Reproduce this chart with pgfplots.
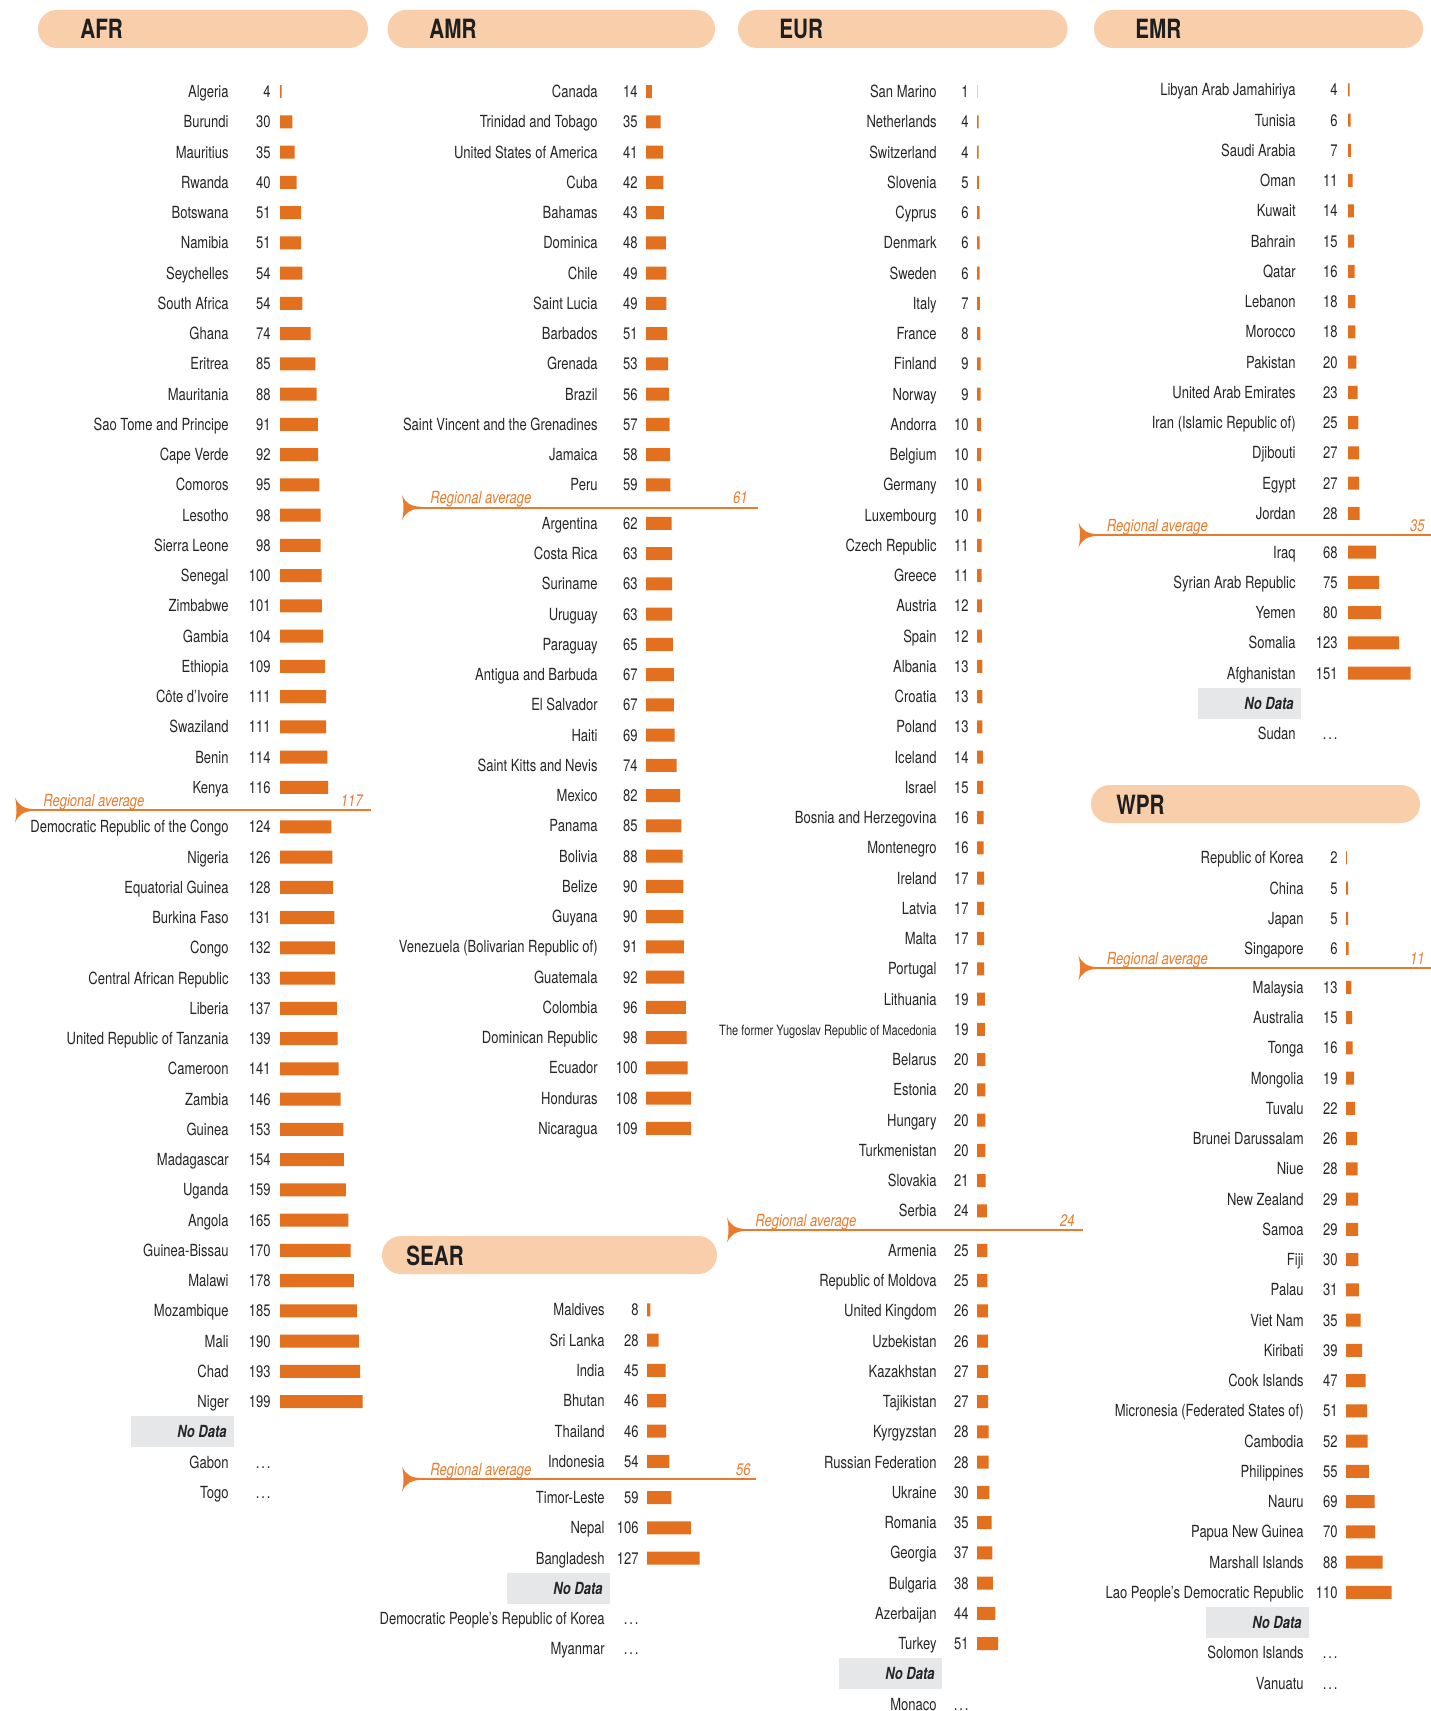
\documentclass[border=0pt]{standalone}
\usepackage{fontspec}
\setmainfont{TeX Gyre Heros}[FakeStretch=0.78]
\usepackage{pgfplots}
\usepackage{pgfplotstable}
\pgfplotsset{compat=1.18}
\definecolor{barc}{HTML}{E3701F}
\definecolor{pillc}{HTML}{F8CEAB}
\definecolor{regc}{HTML}{E97B2C}
\definecolor{txtc}{HTML}{262626}
\definecolor{ndc}{HTML}{E6E7E8}
\newcommand\bodyf{\fontsize{8.35}{10}\selectfont}
\protected\def\mkd{{\fontsize{7.1}{8}\selectfont The former Yugoslav Republic of Macedonia}}
\protected\def\dts{\makebox[7.4pt][s]{.\hfill.\hfill.}}

\pgfplotsset{
  panel/.style={hide axis, clip=false, xmin=0, xmax=250, ymin=-56, ymax=0,
    x=0.2075pt, y=15.125pt, anchor=north west},
  bars/.style={xbar, draw=none, fill=barc, bar width=6.5pt},
  lab/.style={draw=none, nodes near coords, point meta=explicit symbolic,
    nodes near coords style={anchor=base east, xshift=#1, yshift=-3pt, inner sep=0pt, font=\bodyf, text=txtc}},
  dotlab/.style={draw=none, nodes near coords={\dts},
    nodes near coords style={anchor=base east, xshift=#1, yshift=-3pt, inner sep=0pt, font=\bodyf, text=txtc}},
}
\newcommand\nodata[2]{%
  \node[fill=ndc, minimum width=51.5pt, minimum height=15.5pt, inner sep=0pt, anchor=east] at ([xshift=#2]axis cs:0,#1) {};
  \node[anchor=base east, inner sep=0pt, font=\bodyf\bfseries\itshape, text=txtc] at ([xshift=#2-3.5pt, yshift=-3pt]axis cs:0,#1) {No Data};}
\newcommand\ravg[5]{%
  \fill[regc] (#1,#3-12.5) .. controls (#1+4,#3-4) and (#1+9,#3-1.2) .. (#1+20,#3-0.8) -- (#1+20,#3+0.8) .. controls (#1+9,#3+1.2) and (#1+4,#3+4) .. (#1,#3+12.5) .. controls (#1+2,#3+4) and (#1+2,#3-4) .. cycle;
  \draw[regc, line width=0.8pt] (#1+10,#3) -- (#2,#3);
  \node[anchor=base west, inner sep=0pt, text=regc, font=\bodyf\itshape] at (#1+28,#3-4) {Regional average};
  \node[anchor=base east, inner sep=0pt, text=regc, font=\bodyf\itshape] at (#4,#3-4) {#5};}
\newcommand\pill[5]{%
  \fill[pillc, rounded corners=9.4pt] (#1,#2) rectangle (#3,#2+38);
  \node[anchor=base west, inner sep=0pt, font=\fontsize{13.25}{15}\selectfont\bfseries, text=black!88] at (#4,#2+29) {#5};}

% ---------------- AFR
\pgfplotstableread[col sep=comma]{
y,v,name
0,4,Algeria
-1,30,Burundi
-2,35,Mauritius
-3,40,Rwanda
-4,51,Botswana
-5,51,Namibia
-6,54,Seychelles
-7,54,South Africa
-8,74,Ghana
-9,85,Eritrea
-10,88,Mauritania
-11,91,Sao Tome and Principe
-12,92,Cape Verde
-13,95,Comoros
-14,98,Lesotho
-15,98,Sierra Leone
-16,100,Senegal
-17,101,Zimbabwe
-18,104,Gambia
-19,109,Ethiopia
-20,111,Côte d'Ivoire
-21,111,Swaziland
-22,114,Benin
-23,116,Kenya
-24.3,124,Democratic Republic of the Congo
-25.3,126,Nigeria
-26.3,128,Equatorial Guinea
-27.3,131,Burkina Faso
-28.3,132,Congo
-29.3,133,Central African Republic
-30.3,137,Liberia
-31.3,139,United Republic of Tanzania
-32.3,141,Cameroon
-33.3,146,Zambia
-34.3,153,Guinea
-35.3,154,Madagascar
-36.3,159,Uganda
-37.3,165,Angola
-38.3,170,Guinea-Bissau
-39.3,178,Malawi
-40.3,185,Mozambique
-41.3,190,Mali
-42.3,193,Chad
-43.3,199,Niger
}\afrT
\pgfplotstableread[col sep=comma]{
y,name
-45.3,Gabon
-46.3,Togo
}\afrN

% ---------------- AMR
\pgfplotstableread[col sep=comma]{
y,v,name
0,14,Canada
-1,35,Trinidad and Tobago
-2,41,United States of America
-3,42,Cuba
-4,43,Bahamas
-5,48,Dominica
-6,49,Chile
-7,49,Saint Lucia
-8,51,Barbados
-9,53,Grenada
-10,56,Brazil
-11,57,Saint Vincent and the Grenadines
-12,58,Jamaica
-13,59,Peru
-14.27,62,Argentina
-15.27,63,Costa Rica
-16.27,63,Suriname
-17.27,63,Uruguay
-18.27,65,Paraguay
-19.27,67,Antigua and Barbuda
-20.27,67,El Salvador
-21.27,69,Haiti
-22.27,74,Saint Kitts and Nevis
-23.27,82,Mexico
-24.27,85,Panama
-25.27,88,Bolivia
-26.27,90,Belize
-27.27,90,Guyana
-28.27,91,Venezuela (Bolivarian Republic of)
-29.27,92,Guatemala
-30.27,96,Colombia
-31.27,98,Dominican Republic
-32.27,100,Ecuador
-33.27,108,Honduras
-34.27,109,Nicaragua
}\amrT

% ---------------- EUR
\pgfplotstableread[col sep=comma]{
y,v,name
0,1,San Marino
-1,4,Netherlands
-2,4,Switzerland
-3,5,Slovenia
-4,6,Cyprus
-5,6,Denmark
-6,6,Sweden
-7,7,Italy
-8,8,France
-9,9,Finland
-10,9,Norway
-11,10,Andorra
-12,10,Belgium
-13,10,Germany
-14,10,Luxembourg
-15,11,Czech Republic
-16,11,Greece
-17,12,Austria
-18,12,Spain
-19,13,Albania
-20,13,Croatia
-21,13,Poland
-22,14,Iceland
-23,15,Israel
-24,16,Bosnia and Herzegovina
-25,16,Montenegro
-26,17,Ireland
-27,17,Latvia
-28,17,Malta
-29,17,Portugal
-30,19,Lithuania
-31,19,\mkd
-32,20,Belarus
-33,20,Estonia
-34,20,Hungary
-35,20,Turkmenistan
-36,21,Slovakia
-37,24,Serbia
-38.3,25,Armenia
-39.3,25,Republic of Moldova
-40.3,26,United Kingdom
-41.3,26,Uzbekistan
-42.3,27,Kazakhstan
-43.3,27,Tajikistan
-44.3,28,Kyrgyzstan
-45.3,28,Russian Federation
-46.3,30,Ukraine
-47.3,35,Romania
-48.3,37,Georgia
-49.3,38,Bulgaria
-50.3,44,Azerbaijan
-51.3,51,Turkey
}\eurT
\pgfplotstableread[col sep=comma]{
y,name
-53.3,Monaco
}\eurN

% ---------------- EMR
\pgfplotstableread[col sep=comma]{
y,v,name
0,4,Libyan Arab Jamahiriya
-1,6,Tunisia
-2,7,Saudi Arabia
-3,11,Oman
-4,14,Kuwait
-5,15,Bahrain
-6,16,Qatar
-7,18,Lebanon
-8,18,Morocco
-9,20,Pakistan
-10,23,United Arab Emirates
-11,25,Iran (Islamic Republic of)
-12,27,Djibouti
-13,27,Egypt
-14,28,Jordan
-15.28,68,Iraq
-16.28,75,Syrian Arab Republic
-17.28,80,Yemen
-18.28,123,Somalia
-19.28,151,Afghanistan
}\emrT
\pgfplotstableread[col sep=comma]{
y,name
-21.28,Sudan
}\emrN

% ---------------- WPR
\pgfplotstableread[col sep=comma]{
y,v,name
0,2,Republic of Korea
-1,5,China
-2,5,Japan
-3,6,Singapore
-4.28,13,Malaysia
-5.28,15,Australia
-6.28,16,Tonga
-7.28,19,Mongolia
-8.28,22,Tuvalu
-9.28,26,Brunei Darussalam
-10.28,28,Niue
-11.28,29,New Zealand
-12.28,29,Samoa
-13.28,30,Fiji
-14.28,31,Palau
-15.28,35,Viet Nam
-16.28,39,Kiribati
-17.28,47,Cook Islands
-18.28,51,Micronesia (Federated States of)
-19.28,52,Cambodia
-20.28,55,Philippines
-21.28,69,Nauru
-22.28,70,Papua New Guinea
-23.28,88,Marshall Islands
-24.28,110,Lao People's Democratic Republic
}\wprT
\pgfplotstableread[col sep=comma]{
y,name
-26.28,Solomon Islands
-27.28,Vanuatu
}\wprN

% ---------------- SEAR
\pgfplotstableread[col sep=comma]{
y,v,name
0,8,Maldives
-1,28,Sri Lanka
-2,45,India
-3,46,Bhutan
-4,46,Thailand
-5,54,Indonesia
-6.2,59,Timor-Leste
-7.2,106,Nepal
-8.2,127,Bangladesh
}\searT
\pgfplotstableread[col sep=comma]{
y,name
-10.2,Democratic People's Republic of Korea
-11.2,Myanmar
}\searN

\begin{document}
\begin{tikzpicture}
\begin{scope}[x=0.5pt,y=-0.5pt]
\useasboundingbox (0,0) rectangle (1430,1711);
\pill{38}{10}{368}{80}{AFR}
\pill{387.5}{10}{715}{429}{AMR}
\pill{738}{10}{1067.5}{779}{EUR}
\pill{1094}{10}{1423}{1135}{EMR}
\pill{1091}{785}{1420}{1116}{WPR}
\pill{382}{1236}{717}{406}{SEAR}
\ravg{15}{371}{810}{363}{117}
\ravg{402}{758}{507.7}{748}{61}
\ravg{727}{1083}{1230}{1075}{24}
\ravg{1078.5}{1440}{535}{1425}{35}
\ravg{1078.5}{1440}{968}{1425}{11}
\ravg{402}{756}{1479}{751}{56}
\end{scope}

% AFR
\begin{axis}[panel, at={(140pt,-45.85pt)}]
\addplot[bars] table[x=v,y=y]{\afrT};
\addplot[lab=-25.5pt] table[x expr=0,y=y,meta=name]{\afrT};
\addplot[lab=-4.5pt] table[x expr=0,y=y,meta=v]{\afrT};
\addplot[lab=-25.5pt] table[x expr=0,y=y,meta=name]{\afrN};
\addplot[dotlab=-4.5pt] table[x expr=0,y=y]{\afrN};
\nodata{-44.3}{-23pt}
\end{axis}

% AMR
\begin{axis}[panel, at={(323pt,-45.85pt)}]
\addplot[bars] table[x=v,y=y]{\amrT};
\addplot[lab=-24pt] table[x expr=0,y=y,meta=name]{\amrT};
\addplot[lab=-4pt] table[x expr=0,y=y,meta=v]{\amrT};
\end{axis}

% EUR
\begin{axis}[panel, at={(488.5pt,-45.85pt)}]
\addplot[bars] table[x=v,y=y]{\eurT};
\addplot[lab=-20pt] table[x expr=0,y=y,meta=name]{\eurT};
\addplot[lab=-4pt] table[x expr=0,y=y,meta=v]{\eurT};
\addplot[lab=-20pt] table[x expr=0,y=y,meta=name]{\eurN};
\addplot[dotlab=-4pt] table[x expr=0,y=y]{\eurN};
\nodata{-52.3}{-17.5pt}
\end{axis}

% EMR
\begin{axis}[panel, at={(674pt,-45pt)}]
\addplot[bars] table[x=v,y=y]{\emrT};
\addplot[lab=-26pt] table[x expr=0,y=y,meta=name]{\emrT};
\addplot[lab=-5pt] table[x expr=0,y=y,meta=v]{\emrT};
\addplot[lab=-26pt] table[x expr=0,y=y,meta=name]{\emrN};
\addplot[dotlab=-5pt] table[x expr=0,y=y]{\emrN};
\nodata{-20.28}{-23.5pt}
\end{axis}

% WPR
\begin{axis}[panel, at={(673pt,-429pt)}]
\addplot[bars] table[x=v,y=y]{\wprT};
\addplot[lab=-21pt] table[x expr=0,y=y,meta=name]{\wprT};
\addplot[lab=-4pt] table[x expr=0,y=y,meta=v]{\wprT};
\addplot[lab=-21pt] table[x expr=0,y=y,meta=name]{\wprN};
\addplot[dotlab=-4pt] table[x expr=0,y=y]{\wprN};
\nodata{-25.28}{-18.5pt}
\end{axis}

% SEAR
\begin{axis}[panel, at={(323.5pt,-655pt)}]
\addplot[bars] table[x=v,y=y]{\searT};
\addplot[lab=-21pt] table[x expr=0,y=y,meta=name]{\searT};
\addplot[lab=-4pt] table[x expr=0,y=y,meta=v]{\searT};
\addplot[lab=-21pt] table[x expr=0,y=y,meta=name]{\searN};
\addplot[dotlab=-4pt] table[x expr=0,y=y]{\searN};
\nodata{-9.2}{-18.5pt}
\end{axis}
\end{tikzpicture}
\end{document}
